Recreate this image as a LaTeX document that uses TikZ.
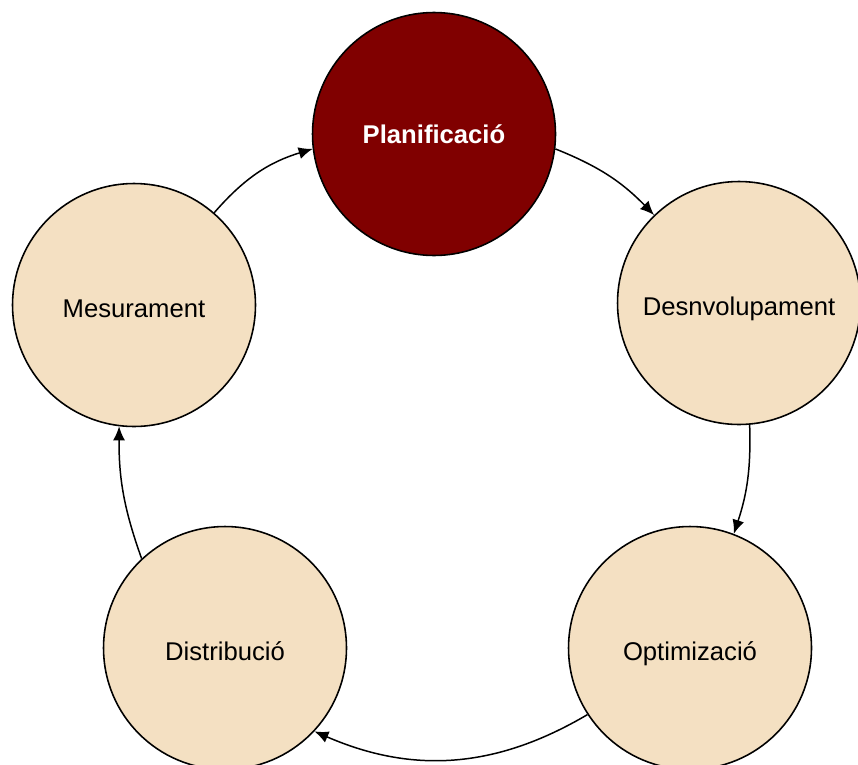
\documentclass[tikz,border=0pt]{standalone}
\usepackage{fontspec}
\setmainfont{Liberation Sans}
\usepackage{tikz}
\usetikzlibrary{arrows.meta}
\definecolor{planred}{HTML}{800000}
\definecolor{stagefill}{HTML}{F4E0C2}

\begin{document}
\begin{tikzpicture}[x=0.02cm, y=0.02cm,
        stage/.style={shape=circle, draw=black, line width=0.9pt, fill=stagefill,
            minimum size=4.86cm, inner sep=0pt, text height=14.4pt, text depth=0pt,
            font=\fontsize{14.6}{17}\selectfont},
        >={Latex[length=2.8mm,width=2.4mm]}]
        \useasboundingbox (0,0) rectangle (858,-764);
        \node[stage, fill=planred, text=white, text height=10.4pt, font=\fontsize{14.6}{17}\selectfont\bfseries] (P) at (434,-134) {Planificació};
        \node[stage] (D) at (739,-303) {Desnvolupament};
        \node[stage] (O) at (690,-648) {Optimizació};
        \node[stage] (S) at (225,-648) {Distribució};
        \node[stage] (M) at (134,-305) {Mesurament};
    
        \path [->, line width=0.85pt] (P.-7) edge[bend left=12] (D.134);
        \path [->, line width=0.85pt] (D.-85) edge[bend left=10] (O.69);
        \path [->, line width=0.85pt] (O.213) edge[bend left=27] (S.-43);
        \path [->, line width=0.85pt] (S.133) edge[bend left=10] (M.-97);
        \path [->, line width=0.85pt] (M.49) edge[bend left=16] (P.187);
    \end{tikzpicture}
\end{document}
